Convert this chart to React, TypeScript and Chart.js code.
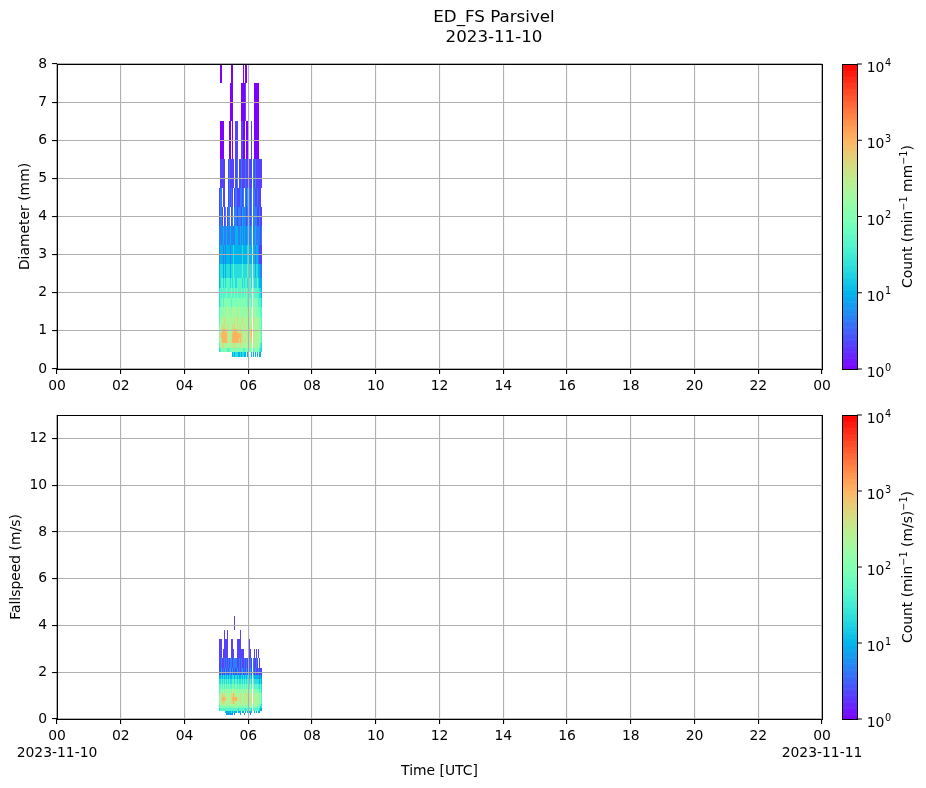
import React, { useEffect, useRef } from "react";
import Chart from "chart.js/auto";

const FONT = '"DejaVu Sans", sans-serif';
const FS = 13.9;

const figTitle = "ED_FS Parsivel";
const startDate = "2023-11-10";
const endDate = "2023-11-11";
const hourLabels = ["00", "02", "04", "06", "08", "10", "12", "14", "16", "18", "20", "22", "00"];

// time bins: 2 minutes each, first one starts 05:04 UTC
const binStartMinute = 304;
const binMinutes = 2;

// class edges (mesh drawn between Parsivel class centres)
const diameterEdges = [
  0.312, 0.437, 0.562, 0.687, 0.812, 0.937, 1.062, 1.187, 1.375, 1.625, 1.875,
  2.125, 2.375, 2.75, 3.25, 3.75, 4.25, 4.75, 5.5, 6.5, 7.5, 8.5,
];
// one string per diameter class (bottom to top), one char per time bin
// '.' = no drops, digit d = 10^(d/3) counts
const diameterCounts = [
  ".........." + "...3434433" + "434433.33." + ".33.3.3.33" + ".",
  "4566666655" + "5666666666" + "6665566666" + "6656666654" + "4",
  "5778877777" + "7777887777" + "8777777777" + "7777777765" + "4",
  "6789999987" + "7789999998" + "9887787787" + "8887777776" + "5",
  "6899999987" + "7789999999" + "9887777877" + "8987777776" + "5",
  "6789999887" + "7778999887" + "8877787778" + "8987777776" + "5",
  "6778887787" + "7778887878" + "8777877787" + "7877777766" + "5",
  "5777787777" + "7777787877" + "7787777777" + "7787777766" + "5",
  "5667676777" + "6767777677" + "7676767667" + "6776766665" + "5",
  "4566566666" + "6656666666" + "6666666566" + "6566666555" + "4",
  "4555555655" + "5565565655" + "5655656555" + "5565555544" + "3",
  "3455454555" + "5454554555" + "5545455455" + "5454445433" + "3",
  "3444343444" + "4344544444" + "4454444544" + "4444344332" + "2",
  "2333232333" + "3233433333" + "3343333433" + "3333233211" + "1",
  "2222322322" + "2322223322" + "3232322322" + "2322322221" + "2",
  "1221.12.12" + "2.12.22122" + "2132221222" + "1222221121" + "1",
  "122.11...1" + "2121.12111" + "2212.21312" + "1222112111" + ".",
  ".11111...1" + "21111.12.1" + "1211121111" + "1121211111" + "1",
  ".0000....." + "00.0..11.." + ".1100.000." + ".1.00000.." + ".",
  ".........." + ".000......" + ".00001...." + "...00000.." + ".",
  ".00......." + "..00......" + "...0.00..." + ".........." + ".",
];

const speedEdges = [
  0.15, 0.25, 0.35, 0.45, 0.55, 0.65, 0.75, 0.85, 0.95, 1.1, 1.3, 1.5, 1.7, 1.9,
  2.2, 2.6, 3.0, 3.4, 3.8, 4.4,
];
const speedCounts = [
  ".......232" + "3232.2...." + "2...2....." + "2........." + ".",
  "......3333" + "3343433.33" + "3.33.3.333" + "33.3.3.33." + ".",
  "4555555555" + "5555555545" + "5555545555" + "5455555543" + "3",
  "5666666666" + "6666667666" + "6666666666" + "6666666654" + "4",
  "5777777777" + "7777777777" + "7776777677" + "7767777665" + "4",
  "6788887777" + "7788987777" + "8777787777" + "7877777766" + "5",
  "6789998877" + "7789999887" + "8777877877" + "8887777767" + "5",
  "6789998877" + "7789999877" + "8777877877" + "8787777767" + "5",
  "6788887777" + "7788987777" + "8777787877" + "7877777767" + "5",
  "5676767677" + "6767777676" + "7676767766" + "7676666656" + "4",
  "5565656565" + "6556656565" + "5656565655" + "6565555545" + "4",
  "4454545454" + "5445545454" + "4545454544" + "5454444434" + "3",
  "3343434343" + "4334434343" + "3434343433" + "4343333323" + "2",
  "1131213121" + "2313121312" + "1231213121" + "3121211211" + "1",
  "1121121212" + "1221222112" + "1211212121" + "2121121.1." + ".",
  "111.11111." + "..111..111" + "1111....11" + "1..1.1.1.." + ".",
  "111..1111." + "..11...111" + "1........1" + ".........." + ".",
  ".....1..1." + ".........." + "1........." + ".........." + ".",
  ".........." + ".....1...." + ".........." + ".........." + ".",
];

const cbTicks = [1, 10, 100, 1000, 10000];
const cbExponents = ["0", "1", "2", "3", "4"];

type Part = { text: string; sup?: boolean };

const diameterCbLabel: Part[] = [
  { text: "Count (min" },
  { text: "\u22121", sup: true },
  { text: " mm" },
  { text: "\u22121", sup: true },
  { text: ")" },
];
const speedCbLabel: Part[] = [
  { text: "Count (min" },
  { text: "\u22121", sup: true },
  { text: " (m/s)" },
  { text: "\u22121", sup: true },
  { text: ")" },
];

// matplotlib "rainbow"
function rainbow(t: number): string {
  const x = Math.max(0, Math.min(1, t));
  const r = Math.min(1, Math.abs(2 * x - 0.5));
  const g = Math.sin(Math.PI * x);
  const b = Math.cos((Math.PI * x) / 2);
  return `rgb(${Math.round(r * 255)},${Math.round(g * 255)},${Math.round(b * 255)})`;
}

function drawRich(ctx: CanvasRenderingContext2D, parts: Part[], cx: number, y: number) {
  const mainFont = `${FS}px ${FONT}`;
  const supFont = `${FS * 0.7}px ${FONT}`;
  let total = 0;
  const widths = parts.map((p) => {
    ctx.font = p.sup ? supFont : mainFont;
    const w = ctx.measureText(p.text).width;
    total += w;
    return w;
  });
  let x = cx - total / 2;
  parts.forEach((p, i) => {
    ctx.font = p.sup ? supFont : mainFont;
    ctx.fillText(p.text, x, p.sup ? y - 5.5 : y);
    x += widths[i];
  });
}

type PanelProps = {
  top: number;
  height: number;
  padTop: number;
  xAxisHeight: number;
  edges: number[];
  counts: string[];
  yMax: number;
  yStep: number;
  yTitle: string;
  yTitlePad: number;
  cbLabel: Part[];
  showDates?: boolean;
  showTitle?: boolean;
};

const Panel: React.FC<PanelProps> = ({
  top,
  height,
  padTop,
  xAxisHeight,
  edges,
  counts,
  yMax,
  yStep,
  yTitle,
  yTitlePad,
  cbLabel,
  showDates,
  showTitle,
}) => {
  const canvasRef = useRef<HTMLCanvasElement>(null);

  useEffect(() => {
    if (!canvasRef.current) return;

    const heatmap = {
      id: "heatmap",
      beforeDraw(chart: any) {
        const { ctx, chartArea: a } = chart;
        const xs = chart.scales.x;
        const ys = chart.scales.y;
        ctx.save();
        ctx.beginPath();
        ctx.rect(a.left, a.top, a.right - a.left, a.bottom - a.top);
        ctx.clip();
        counts.forEach((row, i) => {
          const yb = Math.round(ys.getPixelForValue(edges[i]));
          const yt = Math.round(ys.getPixelForValue(edges[i + 1]));
          for (let k = 0; k < row.length; k++) {
            const ch = row[k];
            if (ch === ".") continue;
            const count = Math.pow(10, Number(ch) / 3);
            const t0 = (binStartMinute + k * binMinutes) / 60;
            const x0 = Math.round(xs.getPixelForValue(t0));
            const x1 = Math.round(xs.getPixelForValue(t0 + binMinutes / 60));
            ctx.fillStyle = rainbow(Math.log10(count) / 4);
            ctx.fillRect(x0, yt, Math.max(1, x1 - x0), yb - yt);
          }
        });
        ctx.restore();
      },
    };

    const frame = {
      id: "frame",
      afterDraw(chart: any) {
        const { ctx, chartArea: a } = chart;
        const cb = chart.scales.cb;
        ctx.save();
        // spines
        ctx.strokeStyle = "#000";
        ctx.lineWidth = 1;
        ctx.strokeRect(
          Math.round(a.left) + 0.5,
          Math.round(a.top) + 0.5,
          Math.round(a.right) - Math.round(a.left),
          Math.round(a.bottom) - Math.round(a.top)
        );

        // colorbar
        const cx0 = Math.round(a.right) + 20;
        const cw = 15;
        const n = 256;
        for (let i = 0; i < n; i++) {
          const yA = cb.getPixelForValue(Math.pow(10, (4 * i) / n));
          const yB = cb.getPixelForValue(Math.pow(10, (4 * (i + 1)) / n));
          ctx.fillStyle = rainbow((i + 0.5) / n);
          ctx.fillRect(cx0, yB, cw, yA - yB + 0.6);
        }
        ctx.strokeRect(cx0 + 0.5, Math.round(a.top) + 0.5, cw, Math.round(a.bottom) - Math.round(a.top));

        ctx.fillStyle = "#000";
        ctx.textAlign = "left";
        ctx.textBaseline = "alphabetic";
        cbTicks.forEach((v, i) => {
          const y = cb.getPixelForValue(v);
          ctx.beginPath();
          ctx.moveTo(cx0 + cw, y);
          ctx.lineTo(cx0 + cw + 4.9, y);
          ctx.stroke();
          const lx = cx0 + cw + 9.7;
          ctx.font = `${FS}px ${FONT}`;
          ctx.fillText("10", lx, y + 8);
          const w = ctx.measureText("10").width;
          ctx.font = `${FS * 0.7}px ${FONT}`;
          ctx.fillText(cbExponents[i], lx + w + 0.5, y + 1.5);
        });

        ctx.save();
        ctx.translate(cx0 + cw + 55, (a.top + a.bottom) / 2);
        ctx.rotate(-Math.PI / 2);
        drawRich(ctx, cbLabel, 0, 0);
        ctx.restore();

        if (showTitle) {
          ctx.textAlign = "center";
          ctx.font = `${FS * 1.2}px ${FONT}`;
          ctx.fillText(figTitle, 494, 22);
          ctx.fillText(startDate, 494, 42);
        }
        ctx.restore();
      },
    };

    const tickFont = { family: FONT, size: FS };

    const chart = new Chart(canvasRef.current, {
      type: "scatter",
      data: { datasets: [] },
      options: {
        animation: false,
        responsive: true,
        maintainAspectRatio: false,
        layout: { padding: { top: padTop, right: 104, bottom: 0, left: 0 } },
        plugins: { legend: { display: false }, tooltip: { enabled: false } },
        scales: {
          x: {
            type: "linear",
            min: 0,
            max: 24,
            afterFit: (s: any) => {
              s.height = xAxisHeight;
            },
            ticks: {
              stepSize: 2,
              autoSkip: false,
              maxRotation: 0,
              padding: 4,
              color: "#000",
              font: tickFont,
              callback: (value: any) => {
                const idx = Math.round(Number(value) / 2);
                const lbl = hourLabels[idx];
                if (showDates && idx === 0) return [lbl, startDate];
                if (showDates && idx === hourLabels.length - 1) return [lbl, endDate];
                return lbl;
              },
            },
            grid: {
              color: "#b0b0b0",
              lineWidth: 1.1,
              tickColor: "#000",
              tickLength: 4.9,
              tickWidth: 1.1,
            },
            border: { display: false },
            title: {
              display: !!showDates,
              text: "Time [UTC]",
              color: "#000",
              font: tickFont,
              padding: { top: 0, bottom: 8.7 },
            },
          },
          y: {
            type: "linear",
            min: 0,
            max: yMax,
            afterFit: (s: any) => {
              s.width = 57;
            },
            ticks: {
              stepSize: yStep,
              includeBounds: false,
              padding: 4.9,
              color: "#000",
              font: tickFont,
            },
            grid: {
              color: "#b0b0b0",
              lineWidth: 1.1,
              tickColor: "#000",
              tickLength: 4.9,
              tickWidth: 1.1,
            },
            border: { display: false },
            title: {
              display: true,
              text: yTitle,
              color: "#000",
              font: tickFont,
              padding: { top: yTitlePad, bottom: 0 },
            },
          },
          cb: {
            type: "logarithmic",
            axis: "y",
            position: "right",
            min: 1,
            max: 10000,
            display: false,
          },
        },
      } as any,
      plugins: [heatmap, frame],
    });

    return () => {
      chart.destroy();
    };
  }, []);

  return (
    <div style={{ position: "absolute", left: 0, top, width: 926, height }}>
      <canvas ref={canvasRef} />
    </div>
  );
};

export default function App() {
  return (
    <div style={{ position: "absolute", left: 0, top: 0, width: 926, height: 788, background: "#fff" }}>
      <Panel
        top={0}
        height={400}
        padTop={64}
        xAxisHeight={31}
        edges={diameterEdges}
        counts={diameterCounts}
        yMax={8}
        yStep={1}
        yTitle="Diameter (mm)"
        yTitlePad={16.7}
        cbLabel={diameterCbLabel}
        showTitle
      />
      <Panel
        top={400}
        height={388}
        padTop={15}
        xAxisHeight={69}
        edges={speedEdges}
        counts={speedCounts}
        yMax={13}
        yStep={2}
        yTitle="Fallspeed (m/s)"
        yTitlePad={7.7}
        cbLabel={speedCbLabel}
        showDates
      />
    </div>
  );
}
